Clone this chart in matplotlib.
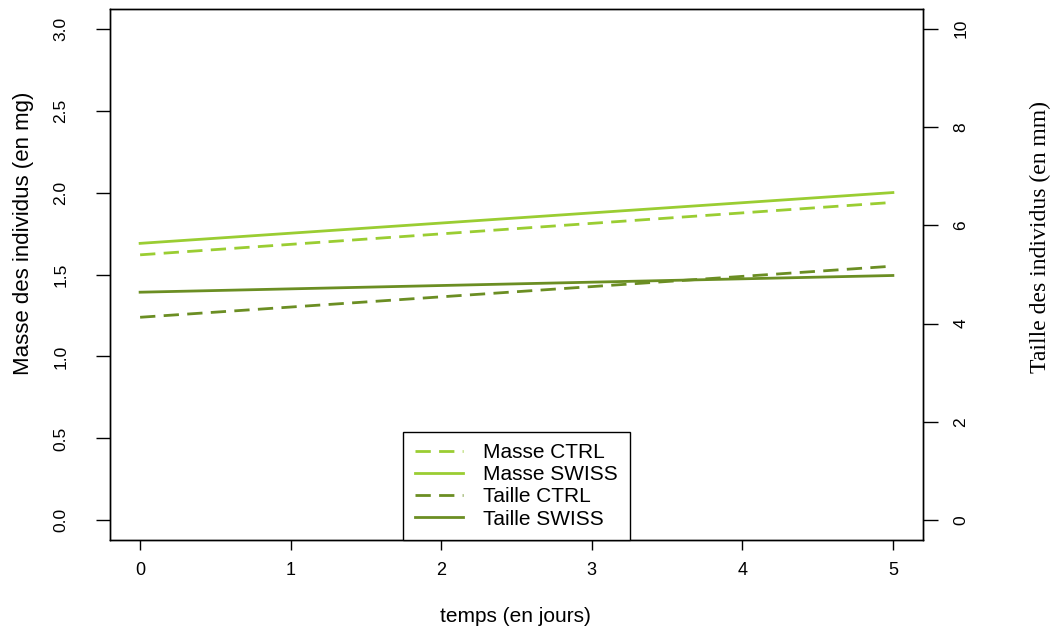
import matplotlib
matplotlib.use("Agg")
import matplotlib.pyplot as plt
import numpy as np

# data
jours = [0, 5]
masse_ctrl = [1.62, 1.94]
masse_swiss = [1.69, 2.00]
taille_ctrl = [4.13, 5.17]
taille_swiss = [4.64, 4.98]

masse_ticks = np.arange(0, 3.01, 0.5)
taille_ticks = np.arange(0, 10.1, 2)
jours_ticks = [0, 1, 2, 3, 4, 5]

c_masse = "#9ACD32"
c_taille = "#6B8E23"

plt.rcParams['font.family'] = ['Liberation Sans', 'DejaVu Sans']

fig = plt.figure(figsize=(10.55, 6.3), dpi=100)
ax = fig.add_axes([110 / 1055, 90 / 630, 813 / 1055, 531 / 630])
ax2 = ax.twinx()

l1, = ax.plot(jours, masse_ctrl, color=c_masse, lw=2, dashes=(5.5, 3), label="Masse CTRL")
l2, = ax.plot(jours, masse_swiss, color=c_masse, lw=2, label="Masse SWISS")
l3, = ax2.plot(jours, taille_ctrl, color=c_taille, lw=2, dashes=(5.5, 3), label="Taille CTRL")
l4, = ax2.plot(jours, taille_swiss, color=c_taille, lw=2, label="Taille SWISS")

ax.set_xlim(-0.2, 5.2)
ax.set_ylim(-0.12, 3.12)
ax2.set_ylim(-0.4, 10.4)

ax.set_xticks(jours_ticks)
ax.set_xticklabels([str(t) for t in jours_ticks], fontsize=13)
ax.set_yticks(masse_ticks)
ax.set_yticklabels(["%.1f" % t for t in masse_ticks], rotation=90, fontsize=12.5, va='center')
ax2.set_yticks(taille_ticks)
ax2.set_yticklabels(["%d" % t for t in taille_ticks], rotation=90, fontsize=12.5, va='center')

ax.tick_params(axis='y', length=10, width=1, pad=20)
ax.tick_params(axis='x', length=7, width=1, pad=9)
ax2.tick_params(axis='y', length=11, width=1, pad=11)

for a in (ax, ax2):
    for s in a.spines.values():
        s.set_linewidth(1)
        s.set_color("black")

ax.set_xlabel("temps (en jours)", fontsize=15, va='center')
ax.xaxis.set_label_coords(0.499, -0.145)
ax.set_ylabel("Masse des individus (en mg)", fontsize=16, va='center')
ax.yaxis.set_label_coords(-0.106, 0.577)
ax2.set_ylabel("Taille des individus (en mm)", fontsize=17, va='center',
               family=['Liberation Serif', 'DejaVu Serif'], rotation=90)
ax2.yaxis.set_label_coords(1.144, 0.57)

leg = ax2.legend(handles=[l1, l2, l3, l4], loc='lower center', bbox_to_anchor=(0.5, 0),
                 borderaxespad=0, fontsize=15, handlelength=2.3, handletextpad=1.0,
                 labelspacing=0.15, borderpad=0.55, fancybox=False, framealpha=1)
leg.get_frame().set_edgecolor("black")
leg.get_frame().set_linewidth(1)

fig.savefig("out.png", dpi=100)
